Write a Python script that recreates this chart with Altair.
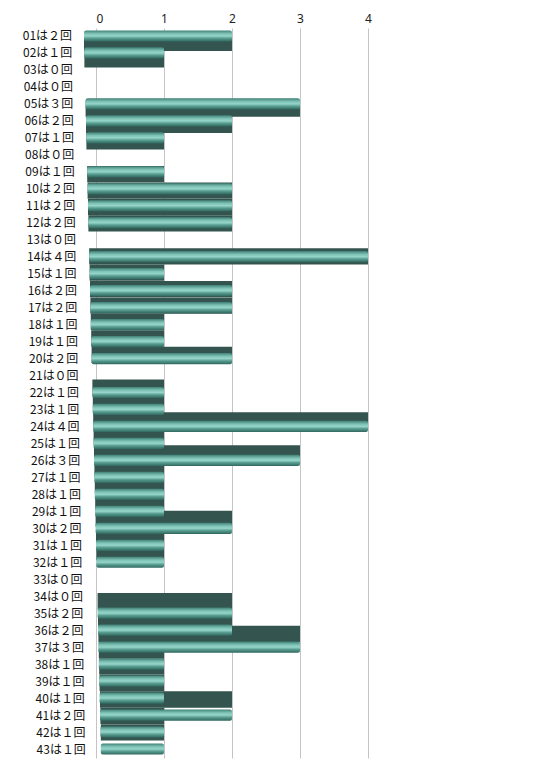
import altair as alt
import pandas as pd

nums = [f"{i:02d}" for i in range(1, 44)]
values = [2, 1, 0, 0, 3, 2, 1, 0, 1, 2, 2, 2, 0, 4, 1, 2, 2, 1, 1, 2,
          0, 1, 1, 4, 1, 3, 1, 1, 1, 2, 1, 1, 0, 0, 2, 2, 3, 1, 1, 1,
          2, 1, 1]
fw = "０１２３４"
labels = [f"{n}は{fw[v]}回" for n, v in zip(nums, values)]
ticks = [0, 1, 2, 3, 4]

df = pd.DataFrame({"idx": list(range(len(values))), "label": labels, "value": values})

PX = 68.0  # pixels per unit (style)

base = alt.Chart(df).transform_calculate(
    x0=f"(-12 + datum.idx * 0.4) / {PX}",
    lx=f"(-24 + datum.idx * 0.33) / {PX}",
    shift="(12 - datum.idx) * 0.033",
    ty1="datum.idx - 0.36",
    ty2="datum.idx + 0.30",
    dy1="datum.idx + datum.shift - 0.5",
    dy2="datum.idx + datum.shift + 0.46",
)

xs = alt.Scale(domain=[0, 4.15], nice=False, zero=False)
ys = alt.Scale(domain=[-0.5, 42.5], reverse=True, nice=False, zero=False)

dark = base.transform_filter("datum.value > 0").mark_rect(
    color="#34554f", clip=False
).encode(
    x=alt.X("x0:Q", scale=xs, axis=alt.Axis(values=ticks, orient="top", grid=True,
            gridColor="#c4c4c4", gridWidth=1, domain=False, ticks=False,
            labelFont="Noto Sans", labelFontSize=12, labelColor="#222",
            labelPadding=3, title=None, format="d")),
    x2="value:Q",
    y=alt.Y("dy1:Q", scale=ys, axis=None),
    y2="dy2:Q",
)

grad = alt.Gradient(
    gradient="linear", x1=0, y1=0, x2=0, y2=1,
    stops=[
        alt.GradientStop(offset=0, color="#3f8176"),
        alt.GradientStop(offset=0.3, color="#7fc2b6"),
        alt.GradientStop(offset=0.5, color="#96d6ca"),
        alt.GradientStop(offset=0.7, color="#5a9e92"),
        alt.GradientStop(offset=1, color="#2f675e"),
    ],
)

front = base.transform_filter("datum.value > 0").mark_rect(
    color=grad, clip=False, cornerRadius=2
).encode(
    x=alt.X("x0:Q", scale=xs),
    x2="value:Q",
    y=alt.Y("ty1:Q", scale=ys),
    y2="ty2:Q",
)

text = base.mark_text(
    align="right", baseline="middle", font="Noto Sans CJK JP", fontSize=12, color="#111"
).encode(
    x=alt.X("lx:Q", scale=xs),
    y=alt.Y("idx:Q", scale=ys),
    text="label:N",
)

chart = alt.layer(dark, front, text).properties(
    width=4.15 * PX, height=730,
    autosize=alt.AutoSizeParams(type="none"),
    padding={"left": 88, "top": 20, "right": 60, "bottom": 5},
).configure_view(stroke=None)

chart.save("out.html", embed_options={"renderer": "svg", "actions": False})
